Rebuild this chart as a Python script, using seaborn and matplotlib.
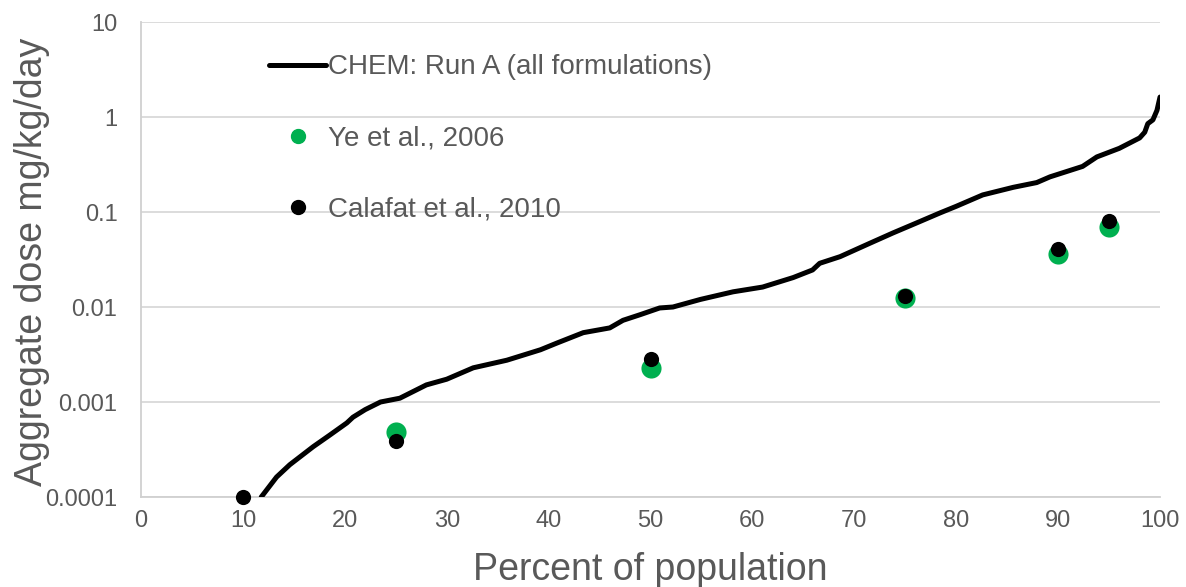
import numpy as np
import pandas as pd
import matplotlib.pyplot as plt
import seaborn as sns
from matplotlib.lines import Line2D

# CHEM model curve (percentile, log10 dose)
chem_pct = [11.8, 13.3, 14.6, 16.9, 18.5, 20.2, 20.8, 22.0, 23.5, 25.4, 26.7,
            28.0, 30.0, 32.6, 35.9, 39.2, 40.8, 43.4, 46.0, 47.3, 49.0, 50.9,
            52.2, 54.9, 58.1, 61.0, 64.0, 65.9, 66.6, 68.6, 71.5, 73.8, 76.0,
            78.4, 80.0, 82.6, 85.6, 87.9, 89.2, 92.4, 93.8, 96.0, 98.0, 98.5,
            98.8, 99.3, 99.7, 100.0]
chem_log = [-4.00, -3.79, -3.66, -3.47, -3.35, -3.22, -3.16, -3.08, -3.00, -2.96, -2.89,
            -2.82, -2.76, -2.64, -2.56, -2.45, -2.38, -2.27, -2.22, -2.14, -2.08, -2.01,
            -2.00, -1.92, -1.84, -1.79, -1.69, -1.61, -1.54, -1.47, -1.33, -1.22, -1.12,
            -1.01, -0.94, -0.82, -0.74, -0.69, -0.63, -0.52, -0.42, -0.33, -0.22, -0.16,
            -0.07, -0.03, 0.07, 0.21]

ye_pct = [25, 50, 75, 90, 95]
ye_dose = [0.00048, 0.00228, 0.0124, 0.036, 0.0695]

calafat_pct = [10, 25, 50, 75, 90, 95]
calafat_dose = [0.0001, 0.00039, 0.00284, 0.0131, 0.041, 0.080]

x_ticks = list(range(0, 101, 10))
y_ticks = [0.0001, 0.001, 0.01, 0.1, 1, 10]
y_tick_labels = ["0.0001", "0.001", "0.01", "0.1", "1", "10"]

chem = pd.DataFrame({"pct": chem_pct, "dose": 10 ** np.array(chem_log)})
ye = pd.DataFrame({"pct": ye_pct, "dose": ye_dose})
cal = pd.DataFrame({"pct": calafat_pct, "dose": calafat_dose})

sns.set_style("white")
plt.rcParams["font.family"] = ["Liberation Sans", "DejaVu Sans"]

grey = "#595959"
green = "#00b050"

fig = plt.figure(figsize=(11.86, 5.87), dpi=100)
ax = fig.add_axes([0.1189, 0.1533, 0.8592, 0.8092])

sns.lineplot(data=chem, x="pct", y="dose", ax=ax, color="black", lw=3.6,
             estimator=None, sort=False, legend=False, zorder=3)
sns.scatterplot(data=ye, x="pct", y="dose", ax=ax, color=green, s=210,
                linewidth=0, zorder=4, clip_on=False)
sns.scatterplot(data=cal, x="pct", y="dose", ax=ax, color="black", s=120,
                linewidth=0, zorder=5, clip_on=False)

ax.set_yscale("log")
ax.set_xlim(0, 100)
ax.set_ylim(0.0001, 10)
ax.set_xticks(x_ticks)
ax.set_xticklabels([str(t) for t in x_ticks])
ax.set_yticks(y_ticks)
ax.set_yticklabels(y_tick_labels)
ax.yaxis.set_minor_locator(plt.NullLocator())
ax.tick_params(axis="both", length=0, labelsize=17, colors=grey)
ax.tick_params(axis="y", pad=17)
ax.tick_params(axis="x", pad=9)

ax.grid(axis="y", color="#d9d9d9", lw=1.3)
ax.set_axisbelow(True)
for s in ["top", "right"]:
    ax.spines[s].set_visible(False)
for s in ["left", "bottom"]:
    ax.spines[s].set_color("#d0d0d0")
    ax.spines[s].set_linewidth(1.3)

ax.set_xlabel("Percent of population", fontsize=27, color=grey, labelpad=15)
ax.set_ylabel("Aggregate dose mg/kg/day", fontsize=27, color=grey)
ax.yaxis.set_label_coords(-0.089, 0.495)

handles = [
    Line2D([], [], color="black", lw=3.6),
    Line2D([], [], color=green, marker="o", ls="none", markersize=10),
    Line2D([], [], color="black", marker="o", ls="none", markersize=10),
]
labels = ["CHEM: Run A (all formulations)", "Ye et al., 2006", "Calafat et al., 2010"]
leg = ax.legend(handles, labels, loc="upper left", bbox_to_anchor=(0.115, 0.955),
                frameon=False, fontsize=20, handlelength=2.05, handletextpad=0.06,
                labelspacing=1.62, borderaxespad=0)
for t in leg.get_texts():
    t.set_color(grey)

fig.savefig("out.png", dpi=100)
